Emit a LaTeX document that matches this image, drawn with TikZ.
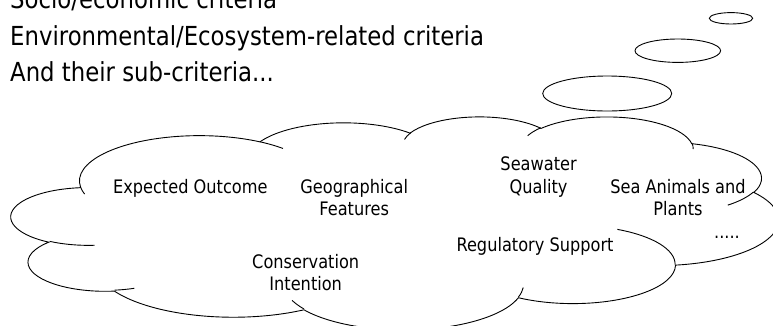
\documentclass[tikz,border=0pt]{standalone}
\usepackage{fontspec}
\setmainfont{DejaVu Sans}[FakeStretch=0.87]
% convert an OOXML (visual) arc angle into a parametric angle
\newcommand\ooconv[4]{%
  \pgfmathsetmacro\ootmp{atan2((#2)*sin(#4),(#3)*cos(#4))}%
  \pgfmathsetmacro\ooadj{\ootmp+360*round(((#4)-\ootmp)/360)}%
  \global\let#1\ooadj
}
\newcommand\ooprep[5]{%
  \ooconv\oostart{#2}{#3}{#4}%
  \pgfmathsetmacro\ooendang{(#4)+(#5)}%
  \ooconv\ooend{#2}{#3}{\ooendang}%
  \expandafter\global\expandafter\let\csname oo#1s\endcsname\oostart
  \expandafter\global\expandafter\let\csname oo#1e\endcsname\ooend
}
\tikzset{
  oarc/.style n args={3}{insert path={arc[start angle=\csname oo#1s\endcsname,
      end angle=\csname oo#1e\endcsname, x radius=#2, y radius=#3]}},
  cloudline/.style={draw=black, line width=0.9pt},
  lbl/.style={font=\fontsize{18.6pt}{22.7pt}\selectfont, align=center, inner sep=0pt, text=black},
  toptext/.style={font=\fontsize{26.2pt}{36.7pt}\selectfont, align=left, inner sep=0pt, text=black}
}
\begin{document}
\begin{tikzpicture}
% main cloud arcs (rx, ry, start, sweep in degrees)
\ooprep{A}{6.753}{9.190}{-190.48748}{123.78053}
\ooprep{B}{5.333}{7.267}{-144.10238}{89.94523}
\ooprep{C}{4.365}{5.945}{-145.80792}{99.72302}
\ooprep{D}{4.857}{6.595}{-130.98607}{117.24173}
\ooprep{E}{5.333}{7.273}{-78.70888}{109.02692}
\ooprep{F}{6.775}{9.220}{-46.26725}{130.26900}
\ooprep{G}{5.785}{7.867}{0.62502}{114.03333}
\ooprep{H}{6.752}{9.215}{22.45160}{115.17255}
\ooprep{I}{7.720}{10.543}{66.24263}{75.71102}
\ooprep{J}{4.360}{5.918}{-274.94208}{146.73557}
\ooprep{K}{4.345}{5.945}{-246.82850}{152.51885}
% inner stub arcs
\ooprep{a}{4.345}{5.945}{86.74200}{26.42950}
\ooprep{b}{4.360}{5.918}{73.61047}{11.44747}
\ooprep{c}{6.752}{9.215}{137.62415}{14.08110}
\ooprep{d}{6.752}{9.215}{6.45327}{15.99835}
\ooprep{e}{5.785}{7.867}{-70.29235}{70.91737}
\ooprep{f}{5.333}{7.273}{30.31803}{27.75150}
\ooprep{g}{4.857}{6.595}{-13.74433}{14.85890}
\ooprep{h}{4.857}{6.595}{-149.18145}{18.19537}
\ooprep{i}{4.365}{5.945}{-163.49427}{17.68635}
\ooprep{j}{6.753}{9.190}{-66.70695}{12.31935}
\ooprep{k}{6.753}{9.190}{157.65435}{11.85817}

\useasboundingbox (0,0) rectangle (773pt,-325pt);
\clip (0,0) rectangle (773pt,-325pt);

% cloud shape
\begin{scope}[shift={(11.3pt,-116.2pt)}, xscale=0.62413, yscale=-0.17330]
  \draw[cloudline, fill=white] (3.9,14.37)
    [oarc={A}{6.753}{9.190}] [oarc={B}{5.333}{7.267}] [oarc={C}{4.365}{5.945}]
    [oarc={D}{4.857}{6.595}] [oarc={E}{5.333}{7.273}] [oarc={F}{6.775}{9.220}]
    [oarc={G}{5.785}{7.867}] [oarc={H}{6.752}{9.215}] [oarc={I}{7.720}{10.543}]
    [oarc={J}{4.360}{5.918}] [oarc={K}{4.345}{5.945}] -- cycle;
  \draw[cloudline]
    (4.693,26.177) [oarc={a}{4.345}{5.945}]
    (6.928,34.899) [oarc={b}{4.360}{5.918}]
    (16.478,39.090) [oarc={c}{6.752}{9.215}]
    (28.827,34.751) [oarc={d}{6.752}{9.215}]
    (34.129,22.954) [oarc={e}{5.785}{7.867}]
    (41.798,15.354) [oarc={f}{5.333}{7.273}]
    (38.324,5.426) [oarc={g}{4.857}{6.595}]
    (29.078,3.952) [oarc={h}{4.857}{6.595}]
    (22.141,4.720) [oarc={i}{4.365}{5.945}]
    (14.000,5.192) [oarc={j}{6.753}{9.190}]
    (4.127,15.789) [oarc={k}{6.753}{9.190}];
\end{scope}

% thought bubbles
\draw[cloudline] (607.2pt,-93.5pt) ellipse [x radius=64.5pt, y radius=17.5pt];
\draw[cloudline] (677.8pt,-50.7pt) ellipse [x radius=42.8pt, y radius=11.7pt];
\draw[cloudline] (731pt,-18.3pt) ellipse [x radius=21.7pt, y radius=5.7pt];

% heading text
\node[toptext, anchor=north west] (crit) at (10pt,11.6pt)
  {Socio/economic criteria\\Environmental/Ecosystem-related criteria\\And their sub-criteria...};

% cloud labels
\node[lbl, anchor=base] (eo) at (190.3pt,-193.3pt) {Expected Outcome};
\node[lbl] (gf) at (354.2pt,-197.7pt) {Geographical\\Features};
\node[lbl] (sq) at (538.6pt,-177.3pt) {Seawater\\Quality};
\node[lbl] (sap) at (678pt,-197.7pt) {Sea Animals and\\Plants};
\node[lbl, anchor=base] (rs) at (535pt,-251.7pt) {Regulatory Support};
\node[lbl] (ci) at (305.7pt,-272.6pt) {Conservation\\Intention};
\node[lbl, anchor=base] (more) at (727pt,-238.3pt) {.....};
\end{tikzpicture}
\end{document}
